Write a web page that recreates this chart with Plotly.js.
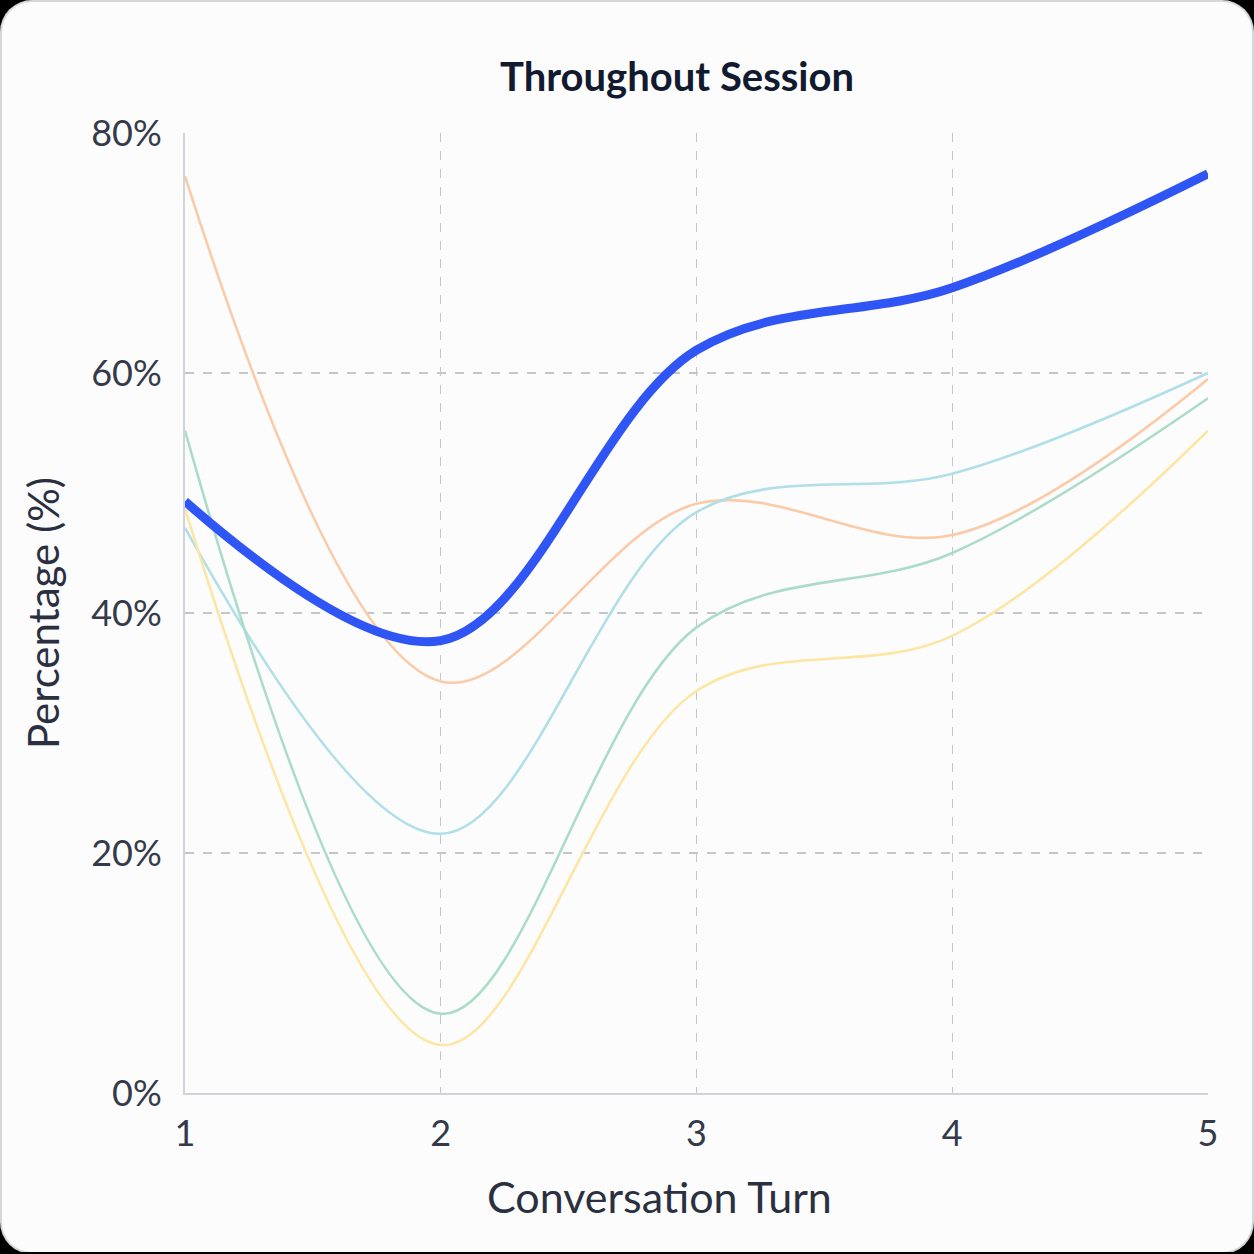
<!DOCTYPE html>
<html>
<head>
<meta charset="utf-8">
<script src="https://cdn.plot.ly/plotly-3.0.1.min.js"></script>
<style>
  html, body { margin: 0; padding: 0; background: #000; }
  #card {
    width: 1250px; height: 1250px; margin: 2px 0 0 2px;
    background: #fcfcfd; border-radius: 30px; overflow: hidden;
    box-shadow: 0 0 0 2px #d6d7da;
  }
  #chart { width: 1250px; height: 1250px; }
</style>
</head>
<body>
<div id="card"><div id="chart"></div></div>
<script>
// 대화 턴 (x축)
const turns = [1, 2, 3, 4, 5];

// 강조 시리즈 (굵은 파랑)
const mainSeries = [49.3, 37.7, 61.9, 67.1, 76.6];

// 배경 시리즈 (옅은 색)
const peachSeries = [76.4, 34.3, 49.1, 46.5, 59.5];
const cyanSeries = [47.1, 21.6, 48.4, 51.6, 60.0];
const mintSeries = [55.2, 6.6, 38.8, 45.0, 57.9];
const yellowSeries = [48.7, 4.0, 33.5, 38.1, 55.2];

const yTicks = [0, 20, 40, 60, 80];
const yTickText = ['0%', '20%', '40%', '60%', '80%'];

const COLORS = {
  main: '#2f55f4',
  peach: '#fbcba8',
  cyan: '#b0dfe8',
  mint: '#abdcc8',
  yellow: '#fde6a4',
  grid: '#c4c6cb',
  axis: '#d0d3d8',
  tick: '#343a4a',
  label: '#2a3040',
  title: '#111a2e',
};

const FONT = 'Lato, "Open Sans", sans-serif';

function faint(y, color, name) {
  return {
    x: turns, y: y, name: name, mode: 'lines',
    line: { color: color, width: 2.6, shape: 'spline', smoothing: 1 },
    hoverinfo: 'skip',
  };
}

const traces = [
  faint(peachSeries, COLORS.peach, 'peach'),
  faint(cyanSeries, COLORS.cyan, 'cyan'),
  faint(mintSeries, COLORS.mint, 'mint'),
  faint(yellowSeries, COLORS.yellow, 'yellow'),
  {
    x: turns, y: mainSeries, name: 'main', mode: 'lines',
    line: { color: COLORS.main, width: 9, shape: 'spline', smoothing: 1 },
  },
];

const layout = {
  width: 1250, height: 1250,
  paper_bgcolor: 'rgba(0,0,0,0)',
  plot_bgcolor: 'rgba(0,0,0,0)',
  showlegend: false,
  font: { family: FONT, color: COLORS.tick },
  title: {
    text: '<b>Throughout Session</b>',
    font: { family: FONT, size: 40, color: COLORS.title },
    x: 0.54, xanchor: 'center', y: 0.94, yanchor: 'middle',
  },
  margin: { l: 183, r: 44, t: 131, b: 159 },
  xaxis: {
    range: [1, 5],
    tickvals: turns,
    ticktext: turns.map(String),
    showgrid: true, gridcolor: COLORS.grid, griddash: 'dash', gridwidth: 1.2,
    showline: true, linecolor: COLORS.axis, linewidth: 2,
    zeroline: false, ticks: '', ticklabelstandoff: 8,
    tickfont: { size: 36, color: COLORS.tick },
  },
  yaxis: {
    range: [0, 80],
    tickvals: yTicks,
    ticktext: yTickText,
    showgrid: true, gridcolor: COLORS.grid, griddash: 'dash', gridwidth: 1.2,
    showline: true, linecolor: COLORS.axis, linewidth: 2,
    zeroline: false, ticks: '', ticklabelstandoff: 14,
    tickfont: { size: 36, color: COLORS.tick },
    title: { text: 'Percentage (%)', font: { size: 42, color: COLORS.label }, standoff: 18 },
  },
  annotations: [{
    xref: 'paper', yref: 'paper', x: 0.464, y: -0.108,
    xanchor: 'center', yanchor: 'middle', showarrow: false,
    text: 'Conversation Turn',
    font: { family: FONT, size: 43, color: COLORS.label },
  }],
};

Plotly.newPlot('chart', traces, layout, { displayModeBar: false, staticPlot: true });
</script>
</body>
</html>
